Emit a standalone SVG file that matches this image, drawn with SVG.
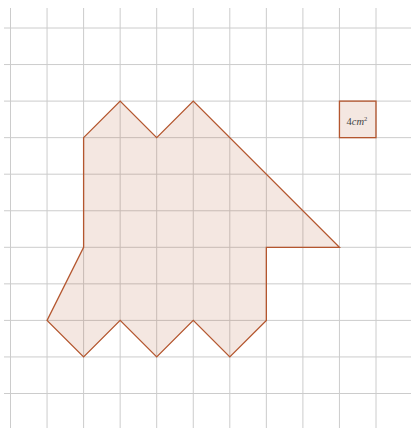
<svg xmlns="http://www.w3.org/2000/svg" width="411" height="428" viewBox="0 0 411 428">
<style>
.grid line{stroke:#cccccc;stroke-width:1}
.shape{fill:#b4562e;fill-opacity:0.14;stroke:#b4562e;stroke-width:1.3;stroke-linejoin:miter}
.lbl{font-family:"Liberation Serif",serif;font-size:10.5px;fill:#444}
</style>
<rect width="411" height="428" fill="#ffffff"/>
<g id="grid" class="grid">
<line x1="10.5" y1="8" x2="10.5" y2="428"/>
<line x1="47.05" y1="8" x2="47.05" y2="428"/>
<line x1="83.6" y1="8" x2="83.6" y2="428"/>
<line x1="120.15" y1="8" x2="120.15" y2="428"/>
<line x1="156.7" y1="8" x2="156.7" y2="428"/>
<line x1="193.25" y1="8" x2="193.25" y2="428"/>
<line x1="229.8" y1="8" x2="229.8" y2="428"/>
<line x1="266.35" y1="8" x2="266.35" y2="428"/>
<line x1="302.9" y1="8" x2="302.9" y2="428"/>
<line x1="339.45" y1="8" x2="339.45" y2="428"/>
<line x1="376" y1="8" x2="376" y2="428"/>
<line x1="4" y1="28" x2="411" y2="28"/>
<line x1="4" y1="64.55" x2="411" y2="64.55"/>
<line x1="4" y1="101.1" x2="411" y2="101.1"/>
<line x1="4" y1="137.65" x2="411" y2="137.65"/>
<line x1="4" y1="174.2" x2="411" y2="174.2"/>
<line x1="4" y1="210.75" x2="411" y2="210.75"/>
<line x1="4" y1="247.3" x2="411" y2="247.3"/>
<line x1="4" y1="283.85" x2="411" y2="283.85"/>
<line x1="4" y1="320.4" x2="411" y2="320.4"/>
<line x1="4" y1="356.95" x2="411" y2="356.95"/>
<line x1="4" y1="393.5" x2="411" y2="393.5"/>
</g>
<g id="figure">
<polygon class="shape" points="83.6,137.65 120.15,101.1 156.7,137.65 193.25,101.1 339.45,247.3 266.35,247.3 266.35,320.4 229.8,356.95 193.25,320.4 156.7,356.95 120.15,320.4 83.6,356.95 47.05,320.4 83.6,247.3"/>
</g>
<g id="unit">
<rect class="shape" x="339.45" y="101.1" width="36.55" height="36.55"/>
<text class="lbl" x="346.5" y="125">4<tspan font-style="italic">cm</tspan><tspan font-size="6.5" dy="-4">2</tspan></text>
</g>
</svg>
